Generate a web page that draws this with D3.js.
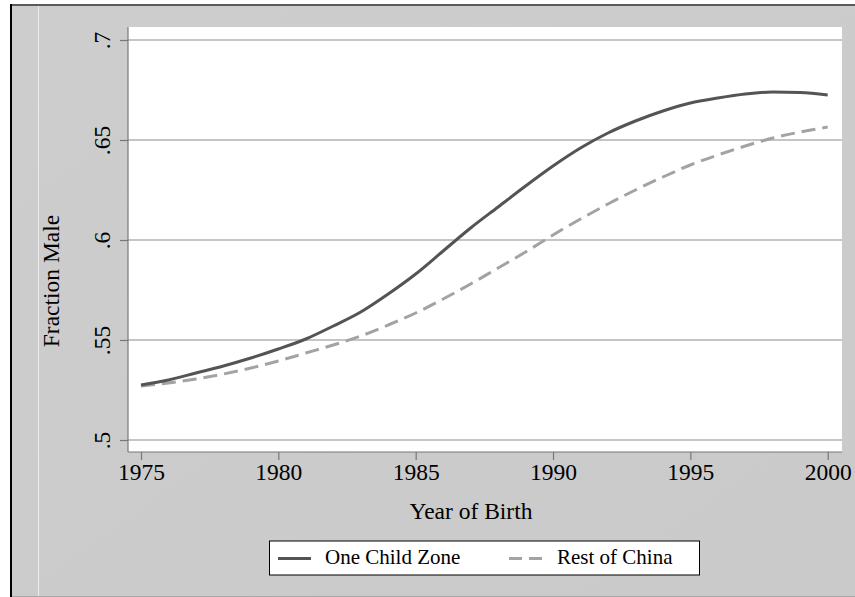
<!DOCTYPE html>
<html>
<head>
<meta charset="utf-8">
<script src="https://cdn.jsdelivr.net/npm/d3@7"></script>
<style>
  body { margin: 0; background: #fff; }
  svg { display: block; font-family: "Liberation Serif", "Times New Roman", serif; }
</style>
</head>
<body>
<div class="canvas"></div>
<script>
// data
const years = d3.range(1975, 2001);
const oneChildZone = [0.5275, 0.530, 0.5335, 0.537, 0.541, 0.5455, 0.5505, 0.557, 0.564, 0.573,
  0.583, 0.5945, 0.606, 0.6165, 0.627, 0.637, 0.646, 0.6535, 0.6595, 0.6645,
  0.6685, 0.671, 0.673, 0.674, 0.6738, 0.6725];
const restOfChina = [0.527, 0.5285, 0.5305, 0.533, 0.536, 0.5395, 0.5435, 0.5475, 0.552, 0.5575,
  0.5635, 0.5705, 0.578, 0.586, 0.594, 0.6025, 0.6105, 0.618, 0.625, 0.6315,
  0.6375, 0.6425, 0.647, 0.651, 0.654, 0.6565];
const xTicks = [1975, 1980, 1985, 1990, 1995, 2000];
const yTicks = [0.5, 0.55, 0.6, 0.65, 0.7];
const yTickLabels = ['.5', '.55', '.6', '.65', '.7'];
const seriesNames = ['One Child Zone', 'Rest of China'];

const width = 855, height = 597;

const svg = d3.select('.canvas')
  .append('svg')
    .attr('width', width)
    .attr('height', height);

// a very slight gradient for the grey background
const grad = svg.append('defs').append('linearGradient')
  .attr('id', 'bgGrad')
  .attr('x1', 0).attr('y1', 0).attr('x2', 1).attr('y2', 1);
grad.append('stop').attr('offset', '0%').attr('stop-color', '#cdcdcd');
grad.append('stop').attr('offset', '100%').attr('stop-color', '#cacaca');

// outer frame: grey background, dark top and left edges
svg.append('rect')
  .attr('x', 12).attr('y', 6)
  .attr('width', width - 12).attr('height', 590)
  .attr('fill', 'url(#bgGrad)');
svg.append('line').attr('x1', 11).attr('x2', width).attr('y1', 5).attr('y2', 5)
  .attr('stroke', '#5a5a5a').attr('stroke-width', 2);
svg.append('line').attr('x1', 11).attr('x2', 11).attr('y1', 4).attr('y2', height)
  .attr('stroke', '#000').attr('stroke-width', 2);
svg.append('line').attr('x1', 38.5).attr('x2', 38.5).attr('y1', 6).attr('y2', height)
  .attr('stroke', '#ececec').attr('stroke-width', 1);
svg.append('line').attr('x1', 12).attr('x2', width).attr('y1', 596.5).attr('y2', 596.5)
  .attr('stroke', '#a8a8a8').attr('stroke-width', 1);

// plot region
const plot = {left: 128, top: 27, right: 842, bottom: 452};
svg.append('rect')
  .attr('x', plot.left).attr('y', plot.top)
  .attr('width', plot.right - plot.left).attr('height', plot.bottom - plot.top)
  .attr('fill', '#fff');

const x = d3.scaleLinear().domain([1975, 2000]).range([141, 827.7]);
const y = d3.scaleLinear().domain([0.5, 0.7]).range([440, 40]);

// gridlines
svg.append('g')
  .selectAll('line')
  .data(yTicks)
  .enter()
  .append('line')
    .attr('x1', plot.left).attr('x2', plot.right)
    .attr('y1', d => y(d)).attr('y2', d => y(d))
    .attr('stroke', '#8c8c8c')
    .attr('stroke-width', 1.2);

// axes
const yAxis = d3.axisLeft(y)
  .tickValues(yTicks)
  .tickSize(8)
  .tickFormat((d, i) => yTickLabels[i]);
const xAxis = d3.axisBottom(x)
  .tickValues(xTicks)
  .tickSize(8)
  .tickFormat(d3.format('d'));

const yAxisGroup = svg.append('g').attr('transform', `translate(${plot.left}, 0)`).call(yAxis);
const xAxisGroup = svg.append('g').attr('transform', `translate(0, ${plot.bottom})`).call(xAxis);

[yAxisGroup, xAxisGroup].forEach(g => {
  g.select('.domain').remove();
  g.selectAll('line').attr('stroke', '#777').attr('stroke-width', 1.2);
  g.selectAll('text')
    .attr('fill', '#000')
    .style('font-family', '"Liberation Serif", "Times New Roman", serif')
    .style('font-size', '23.5px');
});

yAxisGroup.selectAll('text')
  .attr('x', 0)
  .attr('dy', 0)
  .attr('text-anchor', 'middle')
  .attr('transform', 'translate(-18, 0) rotate(-90)');

xAxisGroup.selectAll('text')
  .attr('y', 28)
  .attr('dy', 0);

// axis lines
svg.append('line')
  .attr('x1', plot.left).attr('x2', plot.left)
  .attr('y1', plot.top).attr('y2', plot.bottom)
  .attr('stroke', '#777').attr('stroke-width', 1.2);
svg.append('line')
  .attr('x1', plot.left).attr('x2', plot.right)
  .attr('y1', plot.bottom).attr('y2', plot.bottom)
  .attr('stroke', '#777').attr('stroke-width', 1.2);

// axis titles
svg.append('text')
  .attr('transform', 'translate(59, 281) rotate(-90)')
  .attr('text-anchor', 'middle')
  .style('font-size', '23.5px')
  .text('Fraction Male');
svg.append('text')
  .attr('x', 471).attr('y', 519)
  .attr('text-anchor', 'middle')
  .style('font-size', '23.5px')
  .text('Year of Birth');

// series lines
const line = d3.line()
  .x((d, i) => x(years[i]))
  .y(d => y(d))
  .curve(d3.curveMonotoneX);

svg.append('path')
  .datum(restOfChina)
  .attr('d', line)
  .attr('fill', 'none')
  .attr('stroke', '#a3a3a3')
  .attr('stroke-width', 3)
  .attr('stroke-dasharray', '14,7');

svg.append('path')
  .datum(oneChildZone)
  .attr('d', line)
  .attr('fill', 'none')
  .attr('stroke', '#545454')
  .attr('stroke-width', 3);

// legend
const legend = svg.append('g');
legend.append('rect')
  .attr('x', 269.5).attr('y', 541)
  .attr('width', 430).attr('height', 34)
  .attr('fill', '#fff')
  .attr('stroke', '#000')
  .attr('stroke-width', 1);

const legendItems = [
  {name: seriesNames[0], x: 278, color: '#545454', dash: null, tx: 325},
  {name: seriesNames[1], x: 509, color: '#a3a3a3', dash: '13,7', tx: 557}
];
legendItems.forEach(d => {
  legend.append('line')
    .attr('x1', d.x).attr('x2', d.x + 33)
    .attr('y1', 558.5).attr('y2', 558.5)
    .attr('stroke', d.color)
    .attr('stroke-width', 3)
    .attr('stroke-dasharray', d.dash);
  legend.append('text')
    .attr('x', d.tx).attr('y', 563.5)
    .style('font-size', '21px')
    .text(d.name);
});
</script>
</body>
</html>
